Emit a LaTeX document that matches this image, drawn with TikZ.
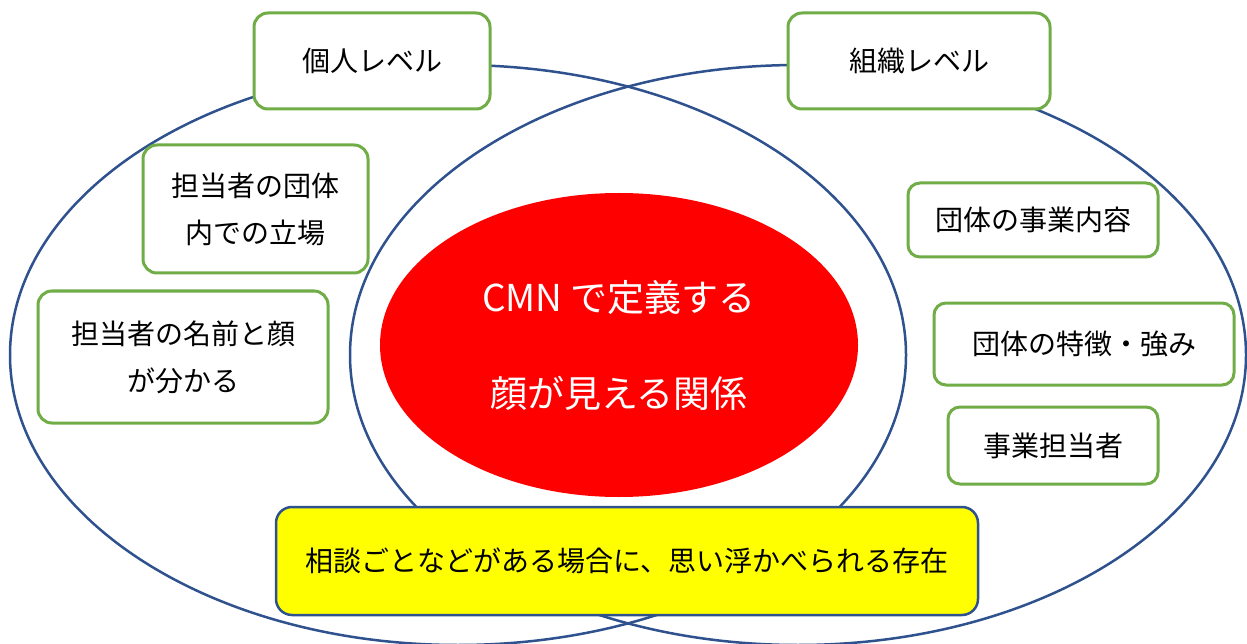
\documentclass[tikz,border=0pt]{standalone}
\usepackage{fontspec}
\setmainfont{Noto Sans CJK JP}
\usetikzlibrary{shapes.geometric}
\definecolor{vblue}{HTML}{2F528F}
\definecolor{bgreen}{HTML}{70AD47}
\definecolor{redfill}{HTML}{FF0000}
\definecolor{yfill}{HTML}{FFFF00}
\begin{document}
\begin{tikzpicture}[x=1pt,y=-1pt,
  ring/.style={draw=vblue, line width=2.5pt},
  gbox/.style={draw=bgreen, line width=3pt, fill=white, rounded corners=14pt,
    align=center, inner sep=0pt, font=\fontsize{28}{47}\selectfont},
  ybox/.style={draw=vblue, line width=2.5pt, fill=yfill, rounded corners=16pt,
    align=center, inner sep=0pt, font=\fontsize{28}{47}\selectfont},
  core/.style={ellipse, fill=redfill, inner sep=0pt, text=white, align=center,
    font=\fontsize{37}{96}\selectfont}
]
\useasboundingbox (0,0) rectangle (1247,644);
\fill[white] (0,0) rectangle (1247,644);
% overlapping rings
\node[ring, ellipse, minimum width=896pt, minimum height=580pt, inner sep=0pt] (left) at (458,355) {};
\node[ring, ellipse, minimum width=896pt, minimum height=580pt, inner sep=0pt] (right) at (798,355) {};
% core
\node[core, minimum width=478pt, minimum height=304pt] (center) at (619,345) {CMN で定義する\\顔が見える関係};
% level labels
\node[gbox, minimum width=236pt, minimum height=96pt] (kojin) at (372,61) {個人レベル};
\node[gbox, minimum width=262pt, minimum height=96pt] (soshiki) at (919,61) {組織レベル};
% individual items
\node[gbox, minimum width=225pt, minimum height=128pt] (tachiba) at (255.5,209) {担当者の団体\\内での立場};
\node[gbox, minimum width=290pt, minimum height=132pt] (namae) at (183,357) {担当者の名前と顔\\が分かる};
% organisation items
\node[gbox, minimum width=250pt, minimum height=74pt, rounded corners=12pt] (jigyo) at (1033,220) {団体の事業内容};
\node[gbox, minimum width=300pt, minimum height=82pt, rounded corners=12pt] (tokucho) at (1084,344) {団体の特徴・強み};
\node[gbox, minimum width=210pt, minimum height=77pt, rounded corners=12pt] (tanto) at (1053,445.5) {事業担当者};
% bottom
\node[ybox, minimum width=702pt, minimum height=108pt] (sodan) at (627,561) {相談ごとなどがある場合に、思い浮かべられる存在};
\end{tikzpicture}
\end{document}
